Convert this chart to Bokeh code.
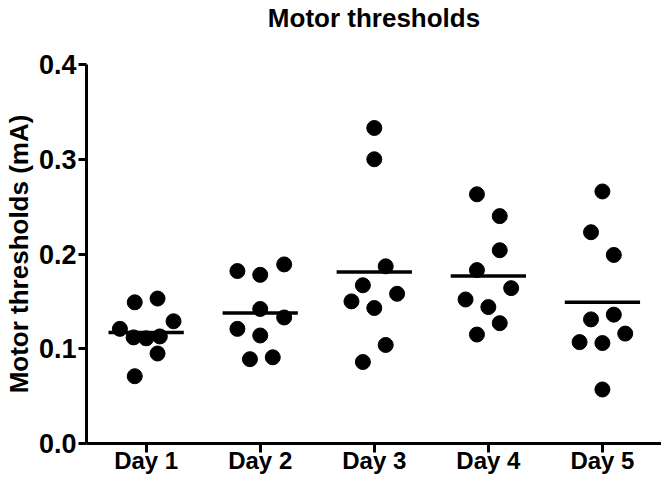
import numpy as np
from bokeh.plotting import figure
from bokeh.models import Range1d, FixedTicker, NumeralTickFormatter, Title
from bokeh.embed import file_html
from bokeh.resources import INLINE

days = ["Day 1", "Day 2", "Day 3", "Day 4", "Day 5"]

day1 = [0.149, 0.153, 0.121, 0.129, 0.112, 0.111, 0.113, 0.095, 0.071]
day2 = [0.182, 0.178, 0.189, 0.142, 0.133, 0.121, 0.114, 0.089, 0.091]
day3 = [0.333, 0.300, 0.187, 0.167, 0.158, 0.150, 0.143, 0.104, 0.086]
day4 = [0.263, 0.240, 0.204, 0.183, 0.164, 0.152, 0.144, 0.127, 0.115]
day5 = [0.266, 0.223, 0.199, 0.131, 0.136, 0.116, 0.107, 0.106, 0.057]

# horizontal scatter (beeswarm) offsets, in category units
day1_off = [-0.10, 0.10, -0.23, 0.24, -0.11, 0.00, 0.12, 0.10, -0.10]
day2_off = [-0.20, 0.00, 0.21, 0.00, 0.21, -0.20, 0.00, -0.09, 0.11]
day3_off = [0.00, 0.00, 0.10, -0.10, 0.20, -0.20, 0.00, 0.10, -0.10]
day4_off = [-0.10, 0.10, 0.10, -0.10, 0.20, -0.20, 0.00, 0.10, -0.10]
day5_off = [0.00, -0.10, 0.10, -0.10, 0.10, 0.20, -0.20, 0.00, 0.00]

y_ticks = [0.0, 0.1, 0.2, 0.3, 0.4]

series = [day1, day2, day3, day4, day5]
offsets = [day1_off, day2_off, day3_off, day4_off, day5_off]

xs, ys = [], []
for i, (vals, offs) in enumerate(zip(series, offsets)):
    for v, o in zip(vals, offs):
        xs.append(i + 1 + o)
        ys.append(v)

pos = np.arange(1, len(days) + 1)
means = [float(np.mean(s)) for s in series]
hw = 0.33

FONT = "Liberation Sans"

p = figure(width=661, height=476, output_backend="svg", toolbar_location=None,
           x_range=Range1d(0.477, 5.518), y_range=Range1d(0, 0.4),
           min_border_left=80, min_border_top=10, min_border_bottom=20, min_border_right=0)

p.title.text = "Motor thresholds"
p.title.align = "center"
p.title.text_font = FONT
p.title.text_font_size = "26px"
p.title.text_font_style = "bold"
p.title.text_color = "black"
p.title.standoff = 0

# spacer between the title and the plot frame
p.add_layout(Title(text=" ", text_font_size="27px", standoff=0), "above")

p.scatter(xs, ys, size=15, color="black", marker="circle")
p.segment(x0=pos - hw, x1=pos + hw, y0=means, y1=means, line_color="black", line_width=3.5)

p.xgrid.visible = False
p.ygrid.visible = False
p.outline_line_color = None

for ax in (p.xaxis[0], p.yaxis[0]):
    ax.axis_line_width = 3
    ax.major_tick_line_width = 3
    ax.major_tick_in = 0
    ax.minor_tick_line_color = None
    ax.major_label_text_font = FONT
    ax.major_label_text_font_style = "bold"
    ax.major_label_text_color = "black"
    ax.axis_line_color = "black"
    ax.major_tick_line_color = "black"

p.xaxis.ticker = FixedTicker(ticks=list(pos))
p.xaxis.major_label_overrides = {int(k): d for k, d in zip(pos, days)}
p.xaxis.major_tick_out = 9
p.xaxis.major_label_standoff = -6
p.xaxis.major_label_text_font_size = "24px"

p.yaxis.ticker = FixedTicker(ticks=y_ticks)
p.yaxis.formatter = NumeralTickFormatter(format="0.0")
p.yaxis.major_tick_out = 8
p.yaxis.major_label_standoff = 2
p.yaxis.major_label_text_font_size = "27px"
p.yaxis.axis_label = "Motor thresholds (mA)"
p.yaxis.axis_label_text_font = FONT
p.yaxis.axis_label_text_font_style = "bold"
p.yaxis.axis_label_text_font_size = "26px"
p.yaxis.axis_label_text_color = "black"
p.yaxis.axis_label_standoff = 2

open("out.html", "w").write(file_html(p, INLINE))
